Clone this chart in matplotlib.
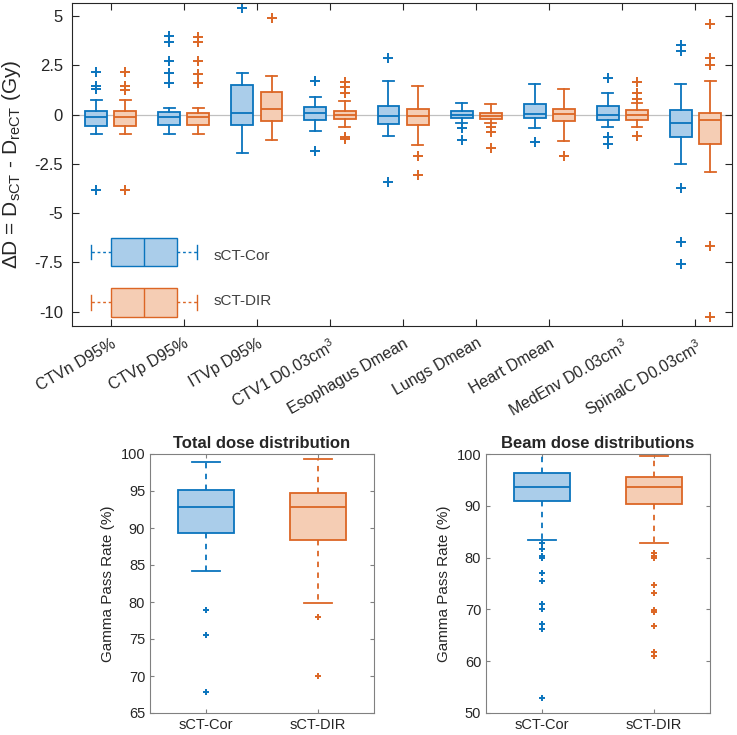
import numpy as np
import matplotlib
matplotlib.use('Agg')
import matplotlib.pyplot as plt

plt.rcParams['font.family'] = ['Liberation Sans', 'DejaVu Sans']
plt.rcParams['mathtext.fontset'] = 'custom'
plt.rcParams['mathtext.rm'] = 'Liberation Sans'
plt.rcParams['text.color'] = '#262626'
plt.rcParams['axes.labelcolor'] = '#262626'
plt.rcParams['xtick.color'] = '#262626'
plt.rcParams['ytick.color'] = '#262626'

# ---- top panel: dose differences per structure (Gy) ----
structures = ['CTVn D95%', 'CTVp D95%', 'ITVp D95%', 'CTV1 D0.03cm$^3$',
              'Esophagus Dmean', 'Lungs Dmean', 'Heart Dmean',
              'MedEnv D0.03cm$^3$', 'SpinalC D0.03cm$^3$']

cor_whislo = [-0.97, -0.97, -1.95, -0.86, -1.09, -0.43, -0.66, -0.62, -2.50]
cor_q1 = [-0.60, -0.53, -0.53, -0.26, -0.48, -0.17, -0.17, -0.28, -1.12]
cor_med = [-0.10, -0.14, 0.09, 0.09, -0.09, 0.00, 0.03, 0.00, -0.43]
cor_q3 = [0.17, 0.12, 1.48, 0.38, 0.45, 0.16, 0.52, 0.41, 0.21]
cor_whishi = [0.72, 0.34, 2.10, 0.90, 1.71, 0.59, 1.53, 1.07, 1.53]
cor_fliers = [[2.14, 1.45, 1.28, -3.84],
              [3.97, 3.69, 2.74, 2.10, 1.62],
              [5.41],
              [1.72, -1.83],
              [2.88, -3.43],
              [-0.69, -1.31],
              [-1.38],
              [1.84, -1.14, -1.47],
              [3.53, 3.22, -3.71, -6.48, -7.60]]

dir_whislo = [-0.97, -0.97, -1.31, -0.62, -1.55, -0.45, -1.34, -0.62, -2.93]
dir_q1 = [-0.60, -0.53, -0.34, -0.22, -0.53, -0.24, -0.34, -0.26, -1.47]
dir_med = [-0.14, -0.14, 0.26, -0.02, -0.05, -0.05, 0.03, 0.00, -0.28]
dir_q3 = [0.17, 0.09, 1.14, 0.16, 0.29, 0.09, 0.29, 0.21, 0.09]
dir_whishi = [0.72, 0.34, 1.98, 0.69, 1.45, 0.52, 1.28, 0.60, 1.72]
dir_fliers = [[2.14, 1.45, 1.24, -3.84],
              [3.92, 3.69, 2.74, 2.07, 1.62],
              [4.90],
              [1.67, 1.38, 1.10, -1.14, -1.22],
              [-2.12, -3.09],
              [-0.62, -0.88, -1.72],
              [-2.09],
              [1.64, 1.07, 0.81, -1.09],
              [4.60, 2.88, 2.50, -6.66, -10.26]]

# ---- bottom panels: gamma pass rates (%) ----
methods = ['sCT-Cor', 'sCT-DIR']

total_whislo = [84.2, 79.8]
total_q1 = [89.3, 88.4]
total_med = [92.8, 92.8]
total_q3 = [95.2, 94.75]
total_whishi = [98.9, 99.35]
total_fliers = [[78.9, 75.6, 67.8], [78.0, 70.05]]

beam_whislo = [83.4, 82.8]
beam_q1 = [91.0, 90.4]
beam_med = [93.7, 93.6]
beam_q3 = [96.3, 95.6]
beam_whishi = [100.0, 99.7]
beam_fliers = [[82.9, 81.7, 80.4, 80.0, 77.0, 75.4, 71.1, 70.0, 67.1, 66.2, 52.9],
               [80.8, 80.3, 79.9, 74.8, 73.2, 69.9, 69.5, 66.7, 61.8, 61.0]]

blue = '#0a74bd'
orange = '#dc6625'
blue_fill = '#aacdea'
orange_fill = '#f5cdb4'


def make_stats(lo, q1, med, q3, hi, fl):
    return [dict(whislo=a, q1=b, med=c, q3=d, whishi=e, fliers=f)
            for a, b, c, d, e, f in zip(lo, q1, med, q3, hi, fl)]


def draw_boxes(ax, stats, pos, width, color, fill, lw, ms, wstyle='-', **kw):
    ax.bxp(stats, positions=pos, widths=width, patch_artist=True,
           boxprops=dict(facecolor=fill, edgecolor=color, linewidth=lw),
           medianprops=dict(color=color, linewidth=lw),
           whiskerprops=dict(color=color, linewidth=lw, linestyle=wstyle),
           capprops=dict(color=color, linewidth=lw),
           flierprops=dict(marker='+', markeredgecolor=color, markersize=ms,
                           markeredgewidth=1.4, linestyle='none'),
           manage_ticks=False, **kw)


fig = plt.figure(figsize=(7.37, 7.35), dpi=100)

# top panel
ax = fig.add_axes([72/737, 1-326/735, 660/737, 323/735])
x = np.arange(1, len(structures) + 1)
ax.axhline(0, color='#c0c0c0', linewidth=0.9, zorder=0)
draw_boxes(ax, make_stats(cor_whislo, cor_q1, cor_med, cor_q3, cor_whishi, cor_fliers),
           x - 0.2, 0.3, blue, blue_fill, 1.3, 7)
draw_boxes(ax, make_stats(dir_whislo, dir_q1, dir_med, dir_q3, dir_whishi, dir_fliers),
           x + 0.2, 0.3, orange, orange_fill, 1.3, 7)

# hand-made legend drawn as two horizontal boxes
leg_stats = [dict(whislo=0.73, q1=1.01, med=1.45, q3=1.9, whishi=2.18, fliers=[])]
draw_boxes(ax, leg_stats, [-6.97], 1.4, blue, blue_fill, 1.0, 6, wstyle=(0, (2, 2)),
           orientation='horizontal')
draw_boxes(ax, leg_stats, [-9.53], 1.5, orange, orange_fill, 1.0, 6, wstyle=(0, (2, 2)),
           orientation='horizontal')
ax.text(2.4, -7.2, 'sCT-Cor', fontsize=11, va='center', color='#404040')
ax.text(2.4, -9.45, 'sCT-DIR', fontsize=11, va='center', color='#404040')

ax.set_xlim(0.47, 9.5)
ax.set_ylim(-10.73, 5.66)
ax.set_yticks([5, 2.5, 0, -2.5, -5, -7.5, -10])
ax.set_yticklabels(['5', '2.5', '0', '-2.5', '-5', '-7.5', '-10'])
ax.set_xticks(x)
ax.set_xticklabels(structures, rotation=30, ha='right', va='top',
                   rotation_mode='anchor', fontsize=11.5)
ax.tick_params(direction='in', top=True, right=True, length=5)
ax.tick_params(axis='x', pad=7)
ax.tick_params(axis='y', pad=6.5, labelsize=12)
ax.set_ylabel(r'ΔD = D$_{\mathregular{sCT}}$ - D$_{\mathregular{reCT}}$ (Gy)',
              fontsize=15, labelpad=8)
for s in ax.spines.values():
    s.set_color('#262626')

# bottom panels
panels = [
    ('Total dose distribution', 150,
     make_stats(total_whislo, total_q1, total_med, total_q3, total_whishi, total_fliers),
     (65, 100), np.arange(65, 101, 5)),
    ('Beam dose distributions', 486,
     make_stats(beam_whislo, beam_q1, beam_med, beam_q3, beam_whishi, beam_fliers),
     (50, 100), np.arange(50, 101, 10)),
]
for title, left, stats, ylim, yticks in panels:
    bx = fig.add_axes([left/737, 1-713/735, 224/737, 259/735])
    draw_boxes(bx, [stats[0]], [1], 0.5, blue, blue_fill, 1.3, 5, wstyle=(0, (3, 3)))
    draw_boxes(bx, [stats[1]], [2], 0.5, orange, orange_fill, 1.3, 5, wstyle=(0, (3, 3)))
    bx.set_xlim(0.5, 2.5)
    bx.set_ylim(*ylim)
    bx.set_yticks(yticks)
    bx.set_xticks([1, 2])
    bx.set_xticklabels(methods)
    bx.tick_params(direction='in', top=True, right=True, length=3, labelsize=10.5,
                   color='#808080')
    bx.set_title(title, fontsize=12, fontweight='bold', pad=4)
    bx.set_ylabel('Gamma Pass Rate (%)', fontsize=11, labelpad=4)
    for s in bx.spines.values():
        s.set_color('#808080')

fig.savefig('out.png', dpi=100)
